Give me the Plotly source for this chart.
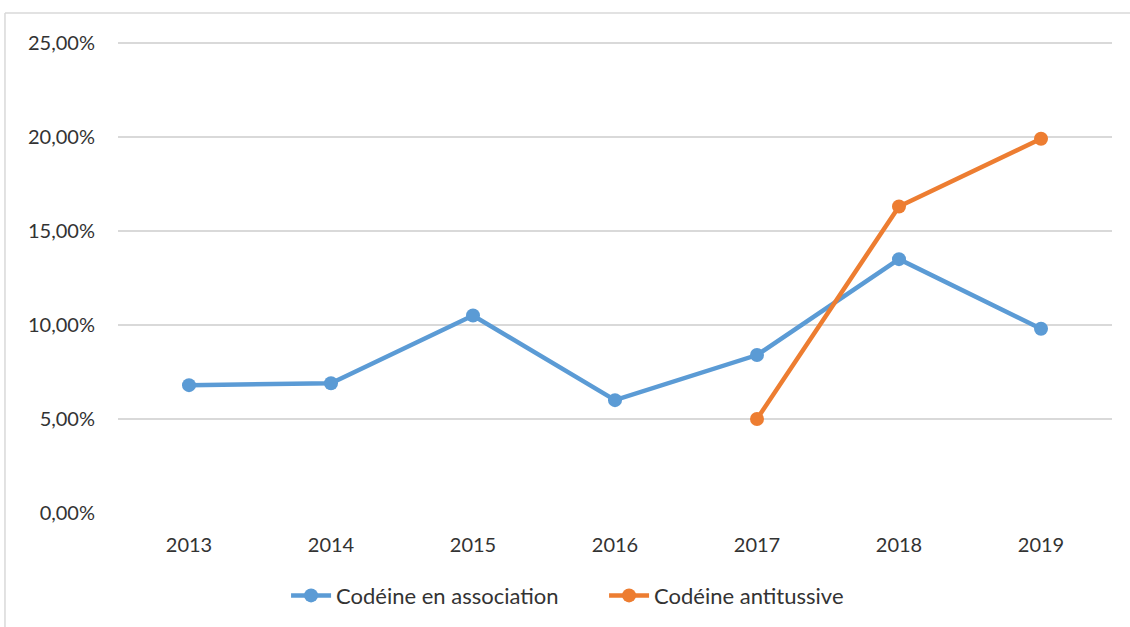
import plotly.graph_objects as go

# Share of codeine-related cases per year
years = ["2013", "2014", "2015", "2016", "2017", "2018", "2019"]
association = [6.8, 6.9, 10.5, 6.0, 8.4, 13.5, 9.8]
antitussive_years = ["2017", "2018", "2019"]
antitussive = [5.0, 16.3, 19.9]

y_ticks = [0, 5, 10, 15, 20, 25]
y_tick_labels = ["0,00%", "5,00%", "10,00%", "15,00%", "20,00%", "25,00%"]

BLUE = "#5B9BD5"
ORANGE = "#ED7D31"
TEXT = "#333333"
FONT = "Lato"

fig = go.Figure()
fig.add_trace(go.Scatter(
    x=years, y=association, mode="lines+markers",
    name="Codéine en association",
    line=dict(color=BLUE, width=4.5),
    marker=dict(color=BLUE, size=14),
))
fig.add_trace(go.Scatter(
    x=antitussive_years, y=antitussive, mode="lines+markers",
    name="Codéine antitussive",
    line=dict(color=ORANGE, width=4.5),
    marker=dict(color=ORANGE, size=14),
))

fig.update_layout(
    width=1130, height=627,
    margin=dict(l=118, r=18, t=41, b=114, autoexpand=False),
    paper_bgcolor="white", plot_bgcolor="white",
    font=dict(family=FONT, size=20, color=TEXT),
    showlegend=True,
    legend=dict(
        orientation="h", x=0.489, xanchor="center",
        y=-0.175, yanchor="middle",
        font=dict(family=FONT, size=22, color=TEXT),
        itemwidth=40, entrywidth=263, traceorder="normal",
    ),
    xaxis=dict(
        type="category", categoryorder="array", categoryarray=years,
        range=[-0.5, len(years) - 0.5],
        showgrid=False, zeroline=False, showline=False,
        ticks="", ticklabelstandoff=18, automargin=False,
        tickfont=dict(family=FONT, size=20, color=TEXT),
    ),
    yaxis=dict(
        range=[0, 25.1], tickvals=y_ticks, ticktext=y_tick_labels,
        showgrid=True, gridcolor="#D9D9D9", gridwidth=1.5,
        zeroline=False, showline=False, ticks="",
        ticklabelstandoff=22, automargin=False,
        tickfont=dict(family=FONT, size=20, color=TEXT),
    ),
)

# Chart-area frame (top and left edges)
frame_x0 = -0.1137
frame_top = 1.0595
fig.add_shape(type="line", xref="paper", yref="paper",
              x0=frame_x0, x1=1.03, y0=frame_top, y1=frame_top,
              line=dict(color="#D9D9D9", width=1.5))
fig.add_shape(type="line", xref="paper", yref="paper",
              x0=frame_x0, x1=frame_x0, y0=frame_top, y1=-0.3,
              line=dict(color="#D9D9D9", width=1.5))

fig.write_html("out.html")
